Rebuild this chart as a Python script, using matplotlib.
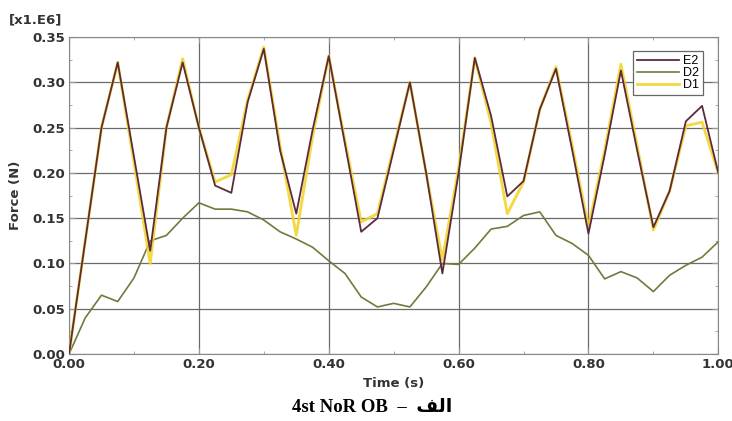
import numpy as np
import matplotlib.pyplot as plt
from matplotlib.ticker import MultipleLocator

# force samples every 0.025 s, values in units of 1e6 N
time_s = [i * 0.025 for i in range(41)]

e2 = [0.0, 0.125, 0.25, 0.322, 0.218, 0.114, 0.25, 0.322, 0.25, 0.186,
      0.178, 0.278, 0.337, 0.225, 0.155, 0.247, 0.329, 0.232, 0.135, 0.15,
      0.225, 0.30, 0.20, 0.089, 0.20, 0.327, 0.263, 0.174, 0.191, 0.27,
      0.315, 0.225, 0.133, 0.22, 0.313, 0.225, 0.14, 0.18, 0.257, 0.274,
      0.20]

d2 = [0.0, 0.04, 0.065, 0.058, 0.084, 0.125, 0.131, 0.15, 0.167, 0.16,
      0.16, 0.157, 0.148, 0.135, 0.127, 0.118, 0.103, 0.089, 0.063, 0.052,
      0.056, 0.052, 0.074, 0.10, 0.099, 0.117, 0.138, 0.141, 0.153, 0.157,
      0.131, 0.122, 0.109, 0.083, 0.091, 0.084, 0.069, 0.087, 0.098, 0.107,
      0.124]

d1 = [0.0, 0.125, 0.25, 0.322, 0.212, 0.10, 0.25, 0.326, 0.25, 0.19,
      0.198, 0.28, 0.339, 0.23, 0.131, 0.24, 0.329, 0.235, 0.146, 0.155,
      0.228, 0.30, 0.20, 0.104, 0.205, 0.327, 0.255, 0.155, 0.19, 0.27,
      0.317, 0.23, 0.14, 0.225, 0.32, 0.23, 0.137, 0.18, 0.252, 0.256,
      0.20]

fig = plt.figure(figsize=(7.32, 4.21), dpi=100)
ax = fig.add_axes([0.0943, 0.159, 0.887, 0.753])

ax.plot(time_s, d2, color='#6f7b3c', lw=1.2, label='D2', zorder=3)
ax.plot(time_s, d1, color='#f3d326', lw=2.1, alpha=0.85, label='D1', zorder=4)
ax.plot(time_s, e2, color='#5b2a3c', lw=1.3, label='E2', zorder=5)

ax.set_xlim(0, 1.0)
ax.set_ylim(0, 0.35)
ax.xaxis.set_major_locator(MultipleLocator(0.2))
ax.xaxis.set_minor_locator(MultipleLocator(0.1))
ax.yaxis.set_major_locator(MultipleLocator(0.05))
ax.yaxis.set_minor_locator(MultipleLocator(0.025))
ax.xaxis.set_major_formatter(plt.FormatStrFormatter('%.2f'))
ax.yaxis.set_major_formatter(plt.FormatStrFormatter('%.2f'))

ax.grid(True, which='major', color='#6a6a6a', lw=0.9)
ax.tick_params(which='both', direction='in', top=True, right=True,
               color='#999999')
ax.tick_params(which='major', length=4, labelsize=9.5, pad=3)
ax.tick_params(which='minor', length=2.5)
for lab in ax.get_xticklabels() + ax.get_yticklabels():
    lab.set_fontweight('bold')
    lab.set_color('#333333')
for sp in ax.spines.values():
    sp.set_color('#888888')

ax.set_xlabel('Time (s)', fontsize=9.5, fontweight='bold', color='#333333',
              labelpad=4)
ax.set_ylabel('Force (N)', fontsize=9.5, fontweight='bold', color='#333333',
              labelpad=7)
fig.text(0.012, 0.945, '[x1.E6]', fontsize=9.5, fontweight='bold',
         color='#333333')

handles, labels = ax.get_legend_handles_labels()
order = [2, 0, 1]
leg = ax.legend([handles[i] for i in order], [labels[i] for i in order],
                loc='upper right', bbox_to_anchor=(0.986, 0.975),
                prop={'family': 'Liberation Sans', 'size': 9},
                fancybox=False, edgecolor='#666666', framealpha=1,
                handlelength=3.4, handletextpad=0.3, labelspacing=0.0,
                borderpad=0.3)
leg.get_frame().set_linewidth(0.9)

# caption: Arabic letters written as presentation forms in visual order
fig.text(0.508, 0.012, '4st NoR OB  \u2013  \ufed2\ufedf\ufe8d',
         ha='center', va='bottom', fontsize=13.5, fontweight='bold',
         family=['Liberation Serif', 'DejaVu Sans'])

fig.savefig('out.png', dpi=100, facecolor='white')
